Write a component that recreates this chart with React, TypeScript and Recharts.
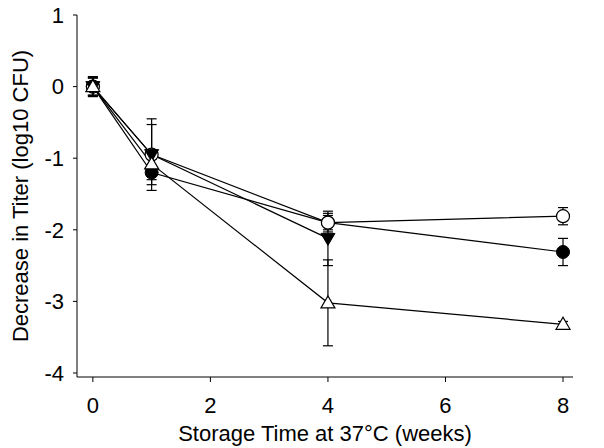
import React from "react";
import {
  ComposedChart,
  Line,
  XAxis,
  YAxis,
  ErrorBar,
  Label,
} from "recharts";

// storage time (weeks)
const weeks = [0, 1, 4, 8];

// decrease in titer (log10 CFU) per formulation, with error bars
const filledCircle = [0, -1.2, -1.9, -2.31];
const filledCircleErr = [0.12, 0.1, 0.1, 0.19];
const openCircle = [0, -0.95, -1.9, -1.81];
const openCircleErr = [0.13, 0.42, 0.13, 0.12];
const downTriangle = [0, -0.95, -2.12, null];
const downTriangleErr = [0.14, 0.5, 0.38, null];
const openTriangle = [0, -1.08, -3.02, -3.32];
const openTriangleErr = [0.12, 0.1, 0.6, 0.04];

const xTicks = [0, 2, 4, 6, 8];
const yTicks = [-4, -3, -2, -1, 0, 1];

const FONT = "'Liberation Sans', Arial, sans-serif";
const FS = 22;

const data = weeks.map((w, i) => ({
  week: w,
  fc: filledCircle[i],
  fcErr: filledCircleErr[i],
  oc: openCircle[i],
  ocErr: openCircleErr[i],
  dt: downTriangle[i],
  dtErr: downTriangleErr[i],
  ot: openTriangle[i],
  otErr: openTriangleErr[i],
}));

const makeDot = (kind: string) => (props: any) => {
  const { cx, cy, index, value } = props;
  const key = `${kind}-${index}`;
  if (cx == null || cy == null || value == null) return <g key={key} />;
  if (kind === "fc")
    return <circle key={key} cx={cx} cy={cy} r={6.5} fill="#000" stroke="#000" />;
  if (kind === "oc")
    return <circle key={key} cx={cx} cy={cy} r={6.5} fill="#fff" stroke="#000" strokeWidth={1.2} />;
  if (kind === "dt")
    return (
      <polygon
        key={key}
        points={`${cx - 7},${cy - 5} ${cx + 7},${cy - 5} ${cx},${cy + 7}`}
        fill="#000"
        stroke="#000"
      />
    );
  return (
    <polygon
      key={key}
      points={`${cx - 7},${cy + 5} ${cx + 7},${cy + 5} ${cx},${cy - 7}`}
      fill="#fff"
      stroke="#000"
      strokeWidth={1.2}
    />
  );
};

// drawing order: later series sit on top
const series = [
  { key: "fc", err: "fcErr" },
  { key: "oc", err: "ocErr" },
  { key: "dt", err: "dtErr" },
  { key: "ot", err: "otErr" },
];

export default function App() {
  return (
    <div style={{ position: "absolute", left: 0, top: 0, width: 604, height: 448, background: "#fff" }}>
      <ComposedChart
        width={604}
        height={448}
        data={data}
        margin={{ top: 15, right: 31, bottom: 0, left: 0 }}
        style={{ fontFamily: FONT }}
      >
        <XAxis
          type="number"
          dataKey="week"
          domain={[-0.27, 8.17]}
          ticks={xTicks}
          allowDataOverflow
          height={71}
          tickSize={5}
          tickMargin={15}
          stroke="#000"
          tick={{ fill: "#000", fontSize: FS, fontFamily: FONT }}
        >
          <Label
            value="Storage Time at 37°C (weeks)"
            position="insideBottom"
            offset={7}
            style={{ fill: "#000", fontSize: FS, fontFamily: FONT }}
          />
        </XAxis>
        <YAxis
          type="number"
          domain={[-4.056, 1]}
          ticks={yTicks}
          allowDataOverflow
          width={77}
          tickSize={4}
          tickMargin={9}
          stroke="#000"
          tick={{ fill: "#000", fontSize: FS, fontFamily: FONT }}
        >
          <Label
            content={(p: any) => {
              const vb = p.viewBox || {};
              const cy = (vb.y ?? 15) + (vb.height ?? 362) / 2;
              return (
                <text
                  x={20}
                  y={cy}
                  transform={`rotate(-90, 20, ${cy})`}
                  textAnchor="middle"
                  dominantBaseline="central"
                  fill="#000"
                  fontSize={FS}
                  fontFamily={FONT}
                >
                  Decrease in Titer (log10 CFU)
                </text>
              );
            }}
          />
        </YAxis>
        {series.map((s) => (
          <Line
            key={s.key}
            dataKey={s.key}
            type="linear"
            stroke="#000"
            strokeWidth={1.2}
            dot={makeDot(s.key)}
            activeDot={false}
            isAnimationActive={false}
            connectNulls={false}
          >
            <ErrorBar dataKey={s.err} direction="y" width={5} stroke="#000" strokeWidth={1.2} />
          </Line>
        ))}
      </ComposedChart>
    </div>
  );
}
